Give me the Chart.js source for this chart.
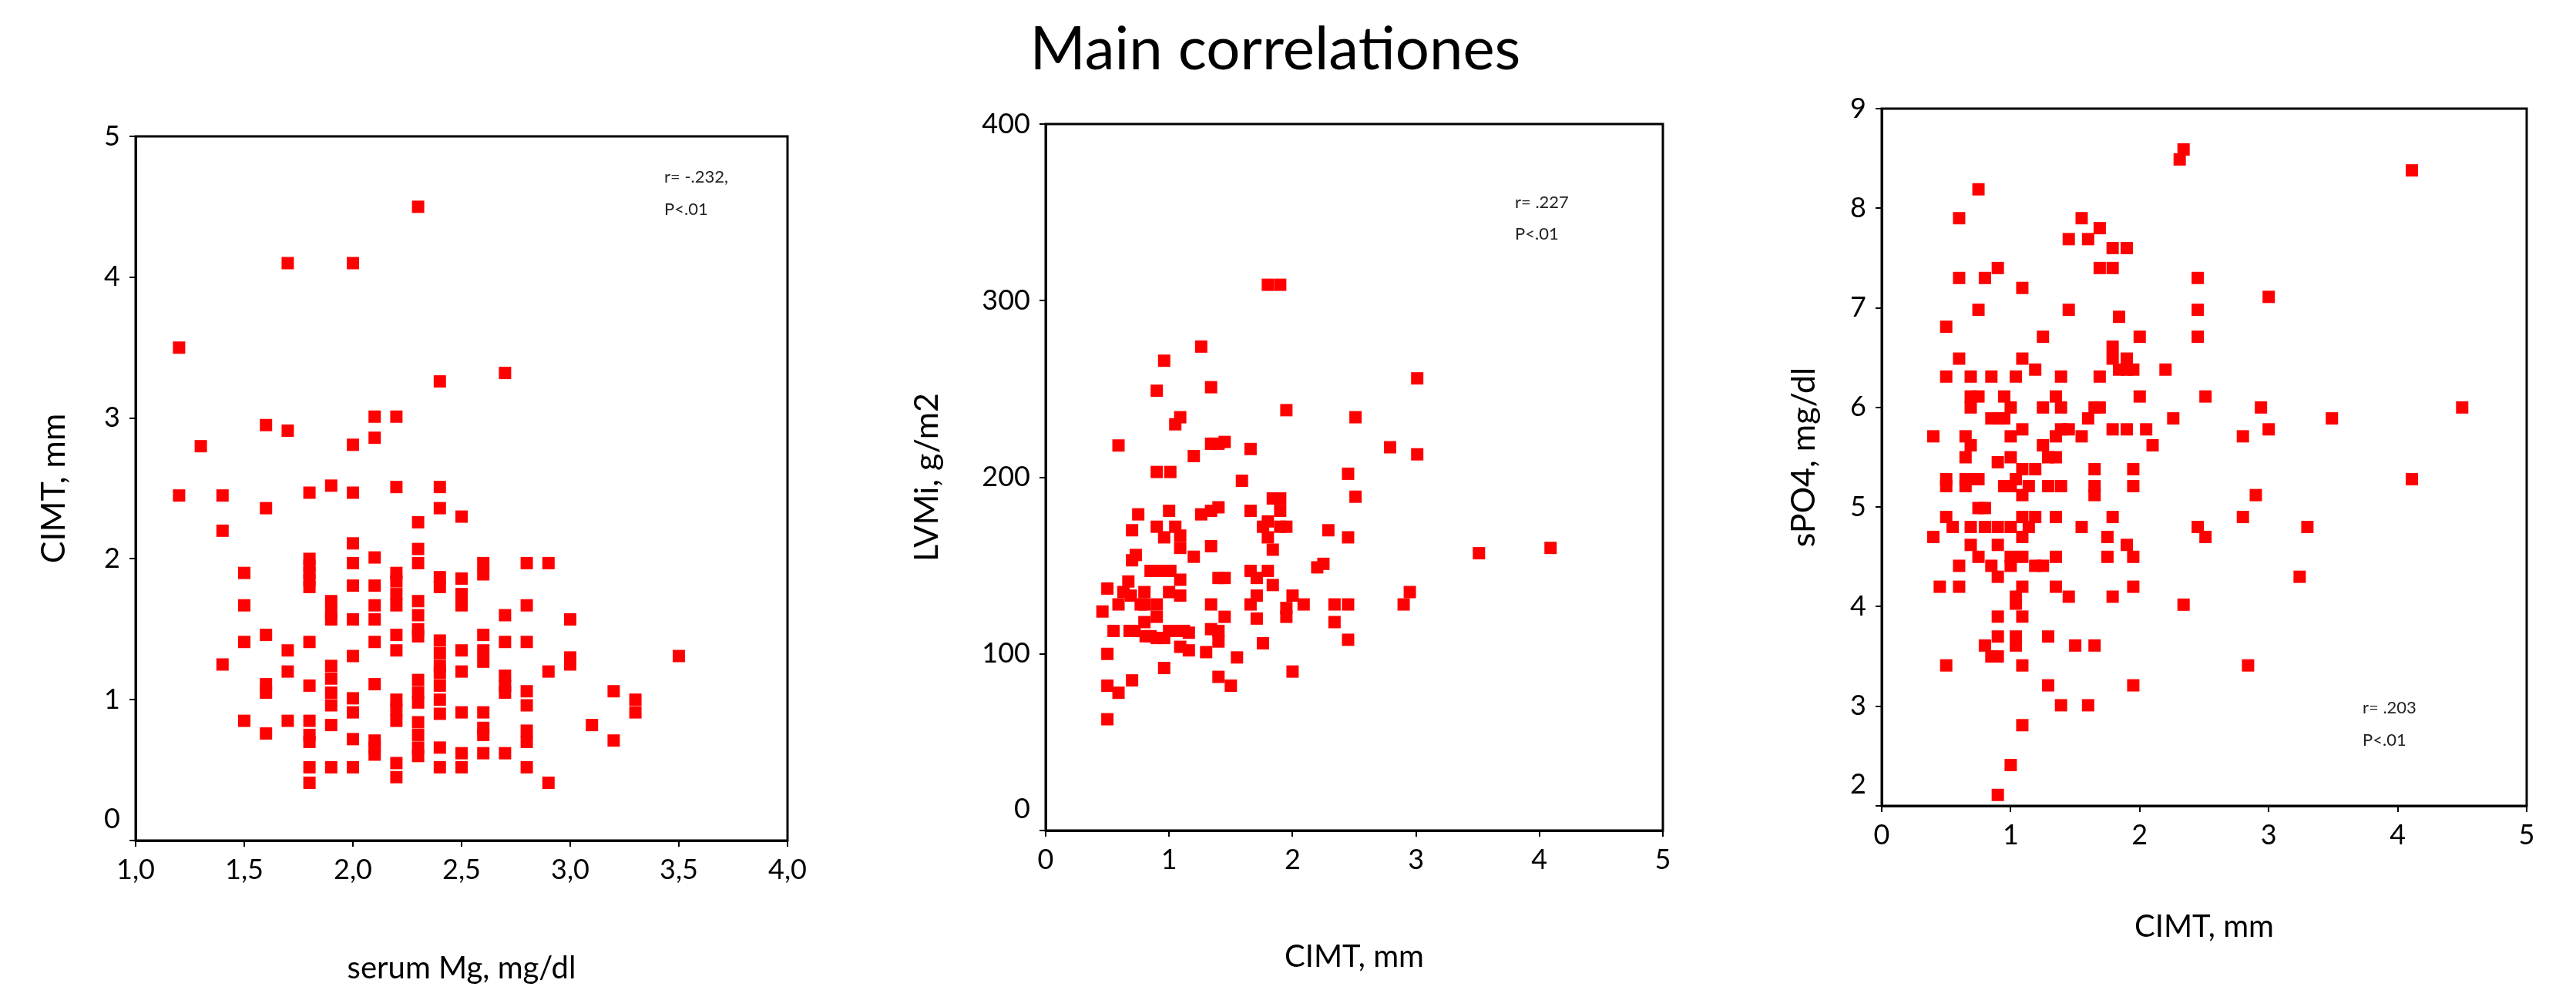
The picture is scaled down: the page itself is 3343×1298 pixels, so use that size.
<!DOCTYPE html>
<html>
<head>
<meta charset="utf-8">
<script src="https://cdn.jsdelivr.net/npm/chart.js@4.4.1/dist/chart.umd.min.js"></script>
<style>
  body { margin: 0; background: #fff; width: 3343px; height: 1298px; position: relative; overflow: hidden; font-family: Lato, sans-serif; }
  canvas { position: absolute; }
  .title { position: absolute; left: 1155px; top: 21px; width: 1000px; text-align: center; font-size: 78px; line-height: 78px; color: #000; }
  .note { position: absolute; font-size: 22px; line-height: 24px; color: #222; }
</style>
</head>
<body>
<div class="title">Main correlationes</div>

<canvas id="mgChart" width="1070" height="1198" style="left:0px;top:100px"></canvas>
<canvas id="lvmiChart" width="1060" height="1238" style="left:1140px;top:60px"></canvas>
<canvas id="phosChart" width="1053" height="1258" style="left:2290px;top:40px"></canvas>

<div class="note" style="left:862px;top:217px">r= -.232,</div>
<div class="note" style="left:862px;top:259px">P&lt;.01</div>
<div class="note" style="left:1966px;top:250px">r= .227</div>
<div class="note" style="left:1966px;top:291px">P&lt;.01</div>
<div class="note" style="left:3066px;top:906px">r= .203</div>
<div class="note" style="left:3066px;top:948px">P&lt;.01</div>

<script>
// Panel 1: serum Mg (x, discrete steps) vs CIMT
const mgLevels = [1.2, 1.3, 1.4, 1.5, 1.6, 1.7, 1.8, 1.9, 2.0, 2.1, 2.2, 2.3, 2.4, 2.5, 2.6, 2.7, 2.8, 2.9, 3.0, 3.1, 3.2, 3.3, 3.5];
const cimtAtMg = [
  [3.5, 2.45],
  [2.8],
  [2.45, 2.2, 1.25],
  [1.9, 1.67, 1.41, 0.85],
  [2.95, 2.36, 1.46, 1.11, 1.05, 0.76],
  [4.1, 2.91, 1.35, 1.2, 0.85],
  [2.47, 2.0, 1.95, 1.9, 1.85, 1.8, 1.41, 1.1, 0.85, 0.75, 0.7, 0.52, 0.41],
  [2.52, 1.7, 1.62, 1.57, 1.24, 1.15, 1.05, 0.96, 0.82, 0.52],
  [4.1, 2.81, 2.47, 2.11, 1.97, 1.81, 1.57, 1.31, 1.01, 0.91, 0.72, 0.52],
  [3.01, 2.86, 2.01, 1.81, 1.67, 1.57, 1.41, 1.11, 0.71, 0.66, 0.61],
  [3.01, 2.51, 1.9, 1.84, 1.75, 1.67, 1.46, 1.35, 1.0, 0.93, 0.85, 0.55, 0.45],
  [4.5, 2.26, 2.07, 1.97, 1.7, 1.6, 1.5, 1.45, 1.14, 1.05, 0.98, 0.84, 0.75, 0.66, 0.6],
  [3.26, 2.51, 2.36, 1.87, 1.8, 1.42, 1.33, 1.24, 1.19, 1.1, 1.0, 0.9, 0.66, 0.52],
  [2.3, 1.86, 1.75, 1.67, 1.35, 1.2, 0.91, 0.62, 0.52],
  [1.97, 1.89, 1.46, 1.35, 1.27, 0.91, 0.8, 0.75, 0.62],
  [3.32, 1.6, 1.41, 1.17, 1.1, 1.05, 0.62],
  [1.97, 1.67, 1.41, 1.06, 0.96, 0.78, 0.7, 0.52],
  [1.97, 1.2, 0.41],
  [1.57, 1.3, 1.25],
  [0.82],
  [1.06, 0.71],
  [1.0, 0.91],
  [1.31]
];

// Panel 2: CIMT vs LVMi
const cimtLv = [0.46, 0.50, 0.55, 0.50, 0.50, 0.50, 0.59, 0.59, 0.59, 0.67, 0.69, 0.70, 0.70, 0.73, 0.75, 0.68, 0.72, 0.70,
  0.80, 0.80, 0.80, 0.81, 0.85, 0.90, 0.90, 0.90, 0.90, 0.90, 0.90, 0.90, 0.96, 0.96, 0.96, 0.96, 0.96,
  1.01, 1.00, 1.01, 1.00, 1.00, 1.05, 1.05, 1.09, 1.09, 1.09, 1.09, 1.09, 1.09, 1.09, 1.16, 1.16, 1.20, 1.20,
  1.26, 1.26, 1.30, 1.34, 1.34, 1.34, 1.34, 1.34, 1.34, 1.40, 1.40, 1.40, 1.40, 1.40, 1.40, 1.45, 1.45, 1.45,
  1.50, 1.55, 1.59, 1.66, 1.66, 1.66, 1.66, 1.71, 1.71, 1.71, 1.76, 1.76, 1.80, 1.80, 1.80, 1.80, 1.84, 1.84, 1.84,
  1.90, 1.90, 1.90, 1.90, 1.95, 1.95, 1.95, 1.95, 2.00, 2.00, 2.09, 2.20, 2.25, 2.29, 2.34, 2.34,
  2.45, 2.45, 2.45, 2.45, 2.51, 2.51, 2.79, 2.90, 2.95, 3.01, 3.01, 3.51, 4.09, 0.85, 0.63, 1.12, 0.77];
const lvmi = [124, 137, 113, 100, 82, 63, 218, 128, 78, 141, 133, 170, 153, 156, 179, 113, 113, 85,
  135, 128, 118, 110, 147, 172, 147, 249, 203, 128, 121, 109, 266, 166, 147, 109, 92,
  203, 181, 147, 135, 113, 230, 172, 234, 167, 160, 142, 133, 113, 104, 112, 102, 212, 155,
  274, 179, 101, 251, 219, 181, 161, 128, 114, 219, 183, 143, 113, 107, 87, 220, 143, 121,
  82, 98, 198, 216, 181, 147, 128, 143, 133, 120, 172, 106, 309, 175, 166, 147, 188, 159, 139,
  309, 188, 181, 172, 172, 238, 126, 121, 133, 90, 128, 149, 151, 170, 128, 118,
  202, 166, 128, 108, 234, 189, 217, 128, 135, 256, 213, 157, 160, 110, 135, 113, 128];

// Panel 3: CIMT vs serum phosphate
const cimtPo = [0.40, 0.40, 0.45, 0.50, 0.50, 0.50, 0.50, 0.50, 0.50, 0.55, 0.60, 0.60, 0.60, 0.60, 0.60,
  0.65, 0.65, 0.65, 0.65, 0.69, 0.69, 0.69, 0.69, 0.69, 0.69, 0.69, 0.75, 0.75, 0.75, 0.75, 0.75, 0.75,
  0.80, 0.80, 0.80, 0.80, 0.85, 0.85, 0.85, 0.85, 0.90, 0.90, 0.90, 0.90, 0.90, 0.90, 0.90, 0.90, 0.90, 0.90,
  0.95, 0.95, 0.95, 1.00, 1.00, 1.00, 1.00, 1.00, 1.00, 1.00, 1.00, 1.04, 1.04, 1.04, 1.04, 1.04, 1.04,
  1.09, 1.09, 1.09, 1.09, 1.09, 1.09, 1.09, 1.09, 1.09, 1.09, 1.09, 1.09, 1.14, 1.14, 1.19, 1.19, 1.19, 1.19,
  1.25, 1.25, 1.25, 1.25, 1.29, 1.29, 1.29, 1.29, 1.35, 1.35, 1.35, 1.35, 1.35, 1.35, 1.39, 1.39, 1.39, 1.39, 1.39,
  1.45, 1.45, 1.45, 1.45, 1.50, 1.55, 1.55, 1.55, 1.60, 1.60, 1.60, 1.65, 1.65, 1.65, 1.65, 1.65,
  1.69, 1.69, 1.69, 1.69, 1.75, 1.75, 1.79, 1.79, 1.79, 1.79, 1.79, 1.79, 1.79, 1.84, 1.84,
  1.90, 1.90, 1.90, 1.90, 1.90, 1.95, 1.95, 1.95, 1.95, 1.95, 1.95, 2.00, 2.00, 2.05, 2.10, 2.20, 2.26,
  2.31, 2.34, 2.34, 2.45, 2.45, 2.45, 2.45, 2.51, 2.51, 2.80, 2.80, 2.84, 2.90, 2.94, 3.00, 3.00,
  3.24, 3.30, 3.49, 4.11, 4.11, 4.50];
const sPO4 = [5.71, 4.70, 4.20, 6.81, 6.31, 5.28, 5.21, 4.90, 3.41, 4.80, 7.90, 7.30, 6.49, 4.41, 4.20,
  5.71, 5.50, 5.28, 5.21, 6.31, 6.11, 6.00, 5.62, 5.28, 4.80, 4.62, 8.19, 6.98, 6.11, 5.28, 4.99, 4.50,
  7.30, 4.99, 4.80, 3.61, 6.31, 5.89, 4.41, 3.50, 7.40, 5.89, 5.45, 4.80, 4.62, 4.30, 3.90, 3.70, 3.50, 2.11,
  6.11, 5.89, 5.21, 6.00, 5.71, 5.50, 5.21, 4.80, 4.50, 4.41, 2.41, 6.31, 5.28, 4.10, 4.03, 3.70, 3.61,
  7.20, 6.49, 5.78, 5.38, 5.12, 4.90, 4.70, 4.50, 4.20, 3.90, 3.41, 2.81, 5.21, 4.80, 6.38, 5.38, 4.90, 4.41,
  6.71, 6.00, 5.62, 4.41, 5.50, 5.21, 3.70, 3.21, 6.11, 5.71, 5.50, 4.90, 4.50, 4.20, 6.31, 6.00, 5.78, 5.21, 3.01,
  7.69, 6.98, 5.78, 4.10, 3.61, 7.90, 5.71, 4.80, 7.69, 5.89, 3.01, 6.00, 5.38, 5.21, 5.12, 3.61,
  7.80, 7.40, 6.31, 6.00, 4.70, 4.50, 7.60, 7.40, 6.61, 6.49, 5.78, 4.90, 4.10, 6.91, 6.38,
  7.60, 6.49, 6.38, 5.78, 4.62, 6.38, 5.38, 5.21, 4.50, 4.20, 3.21, 6.71, 6.11, 5.78, 5.62, 6.38, 5.89,
  8.49, 8.59, 4.02, 7.30, 6.98, 6.71, 4.80, 6.11, 4.70, 5.71, 4.90, 3.41, 5.12, 6.00, 7.11, 5.78,
  4.30, 4.80, 5.89, 8.38, 5.28, 6.00];

const textFont = 'Lato, "Open Sans", sans-serif';

// Closed box around the plot area, and the lowest y label drawn a bit higher (as in SPSS)
const boxPlugin = {
  id: 'plotBox',
  afterDraw(chart) {
    const a = chart.chartArea;
    const ctx = chart.ctx;
    ctx.save();
    ctx.strokeStyle = '#000';
    ctx.lineWidth = 3;
    ctx.strokeRect(a.left, a.top, a.right - a.left, a.bottom - a.top);

    const y = chart.scales.y;
    ctx.fillStyle = '#000';
    ctx.font = '36px ' + textFont;
    ctx.textAlign = 'right';
    ctx.textBaseline = 'middle';
    ctx.fillText(String(y.min), y.right - 8 - 12, y.getPixelForValue(y.min) - 28);
    ctx.restore();
  }
};

function axis(cfg) {
  return {
    type: 'linear',
    min: cfg.min,
    max: cfg.max,
    afterFit: cfg.fit,
    ticks: {
      stepSize: cfg.step,
      color: '#000',
      padding: cfg.tickPad,
      font: { family: textFont, size: 36 },
      callback: cfg.format
    },
    grid: { display: true, drawOnChartArea: false, drawTicks: true, tickLength: 8, color: '#000', lineWidth: 2 },
    border: { display: true, color: '#000', width: 3 },
    title: {
      display: true,
      text: cfg.title,
      color: '#000',
      font: { family: textFont, size: cfg.titleSize || 40 },
      padding: cfg.titlePad
    }
  };
}

function scatterPanel(id, points, pad, xCfg, yCfg) {
  return new Chart(document.getElementById(id), {
    type: 'scatter',
    data: {
      datasets: [{
        data: points,
        backgroundColor: '#ff0000',
        borderWidth: 0,
        pointStyle: 'rect',
        pointRadius: 11.3,
        pointHoverRadius: 11.3
      }]
    },
    options: {
      responsive: false,
      animation: false,
      layout: { padding: pad },
      plugins: { legend: { display: false }, tooltip: { enabled: false } },
      scales: { x: axis(xCfg), y: axis(yCfg) }
    },
    plugins: [boxPlugin]
  });
}

// the lowest y label is left out here and drawn by the plugin
const skipMin = min => v => (v === min ? '' : String(v));

const mgPoints = mgLevels.flatMap((m, i) => cimtAtMg[i].map(c => ({ x: m, y: c })));
const lvPoints = cimtLv.map((c, i) => ({ x: c, y: lvmi[i] }));
const poPoints = cimtPo.map((c, i) => ({ x: c, y: sPO4[i] }));

scatterPanel('mgChart', mgPoints, { top: 77, right: 48, left: 0, bottom: 0 },
  { min: 1, max: 4, step: 0.5, title: 'serum Mg, mg/dl', tickPad: 9,
    titlePad: { top: 0, bottom: 17 }, fit: s => { s.height = 207; },
    format: v => v.toFixed(1).replace('.', ',') },
  { min: 0, max: 5, step: 1, title: 'CIMT, mm', titleSize: 43, tickPad: 12,
    titlePad: { top: 44, bottom: 0 }, fit: s => { s.width = 176; }, format: skipMin(0) });

scatterPanel('lvmiChart', lvPoints, { top: 101, right: 42, left: 0, bottom: 0 },
  { min: 0, max: 5, step: 1, title: 'CIMT, mm', tickPad: 9,
    titlePad: { top: 0, bottom: 32 }, fit: s => { s.height = 220; }, format: v => String(v) },
  { min: 0, max: 400, step: 100, title: 'LVMi, g/m2', titleSize: 43, tickPad: 12,
    titlePad: { top: 37, bottom: 0 }, fit: s => { s.width = 217; }, format: skipMin(0) });

scatterPanel('phosChart', poPoints, { top: 101, right: 64, left: 0, bottom: 0 },
  { min: 0, max: 5, step: 1, title: 'CIMT, mm', tickPad: 9,
    titlePad: { top: 0, bottom: 71 }, fit: s => { s.height = 252; }, format: v => String(v) },
  { min: 2, max: 9, step: 1, title: 'sPO4, mg/dl', titleSize: 43, tickPad: 12,
    titlePad: { top: 25, bottom: 0 }, fit: s => { s.width = 152; }, format: skipMin(2) });
</script>
</body>
</html>
